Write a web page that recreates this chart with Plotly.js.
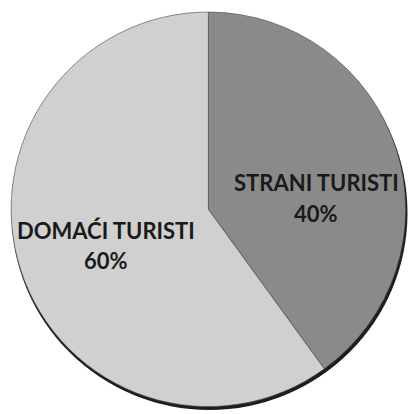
<!DOCTYPE html>
<html>
<head>
<meta charset="utf-8">
<script src="https://cdn.plot.ly/plotly-3.0.1.min.js"></script>
<style>html,body{margin:0;padding:0;background:#fff;}#chart{width:411px;height:414px;}</style>
</head>
<body>
<div id="chart"></div>
<script>
const labels = ["STRANI TURISTI", "DOMAĆI TURISTI"];
const values = [40, 60];
const colors = ["#8a8a8a", "#d0d0d0"];
// label anchor positions in pixels [x, yLabel, yPercent] – styling only
const labelPos = [[316, 183, 214], [106, 230, 260]];

const total = values.reduce((a, b) => a + b, 0);
const W = 411, H = 414;

const trace = {
  type: "pie",
  labels: labels,
  values: values,
  sort: false,
  direction: "clockwise",
  rotation: 0,
  marker: {colors: colors, line: {color: "#444", width: 0.6}},
  textinfo: "none",
  hoverinfo: "none",
  domain: {x: [0.024, 0.99], y: [0.018, 0.971]},
  showlegend: false
};

const font = {family: "Lato, 'Open Sans', sans-serif", size: 22, color: "#1a1a1a", weight: "bold"};
const annotations = [];
labels.forEach((lab, i) => {
  const [px, py1, py2] = labelPos[i];
  annotations.push({
    xref: "paper", yref: "paper", x: px / W, y: 1 - py1 / H,
    xanchor: "center", yanchor: "middle", showarrow: false,
    text: lab, font: font
  });
  annotations.push({
    xref: "paper", yref: "paper", x: px / W, y: 1 - py2 / H,
    xanchor: "center", yanchor: "middle", showarrow: false,
    text: Math.round(values[i] / total * 100) + "%", font: font
  });
});

const layout = {
  width: W, height: H,
  margin: {l: 0, r: 0, t: 0, b: 0},
  paper_bgcolor: "#fff",
  plot_bgcolor: "#fff",
  showlegend: false,
  annotations: annotations,
  shapes: [{
    type: "circle", xref: "paper", yref: "paper", layer: "below",
    x0: 11.5 / W, x1: 407.5 / W, y0: 1 - 410 / H, y1: 1 - 16 / H,
    fillcolor: "#1e1e1e", line: {width: 0}
  }]
};

Plotly.newPlot("chart", [trace], layout, {displayModeBar: false, staticPlot: true});
</script>
</body>
</html>
